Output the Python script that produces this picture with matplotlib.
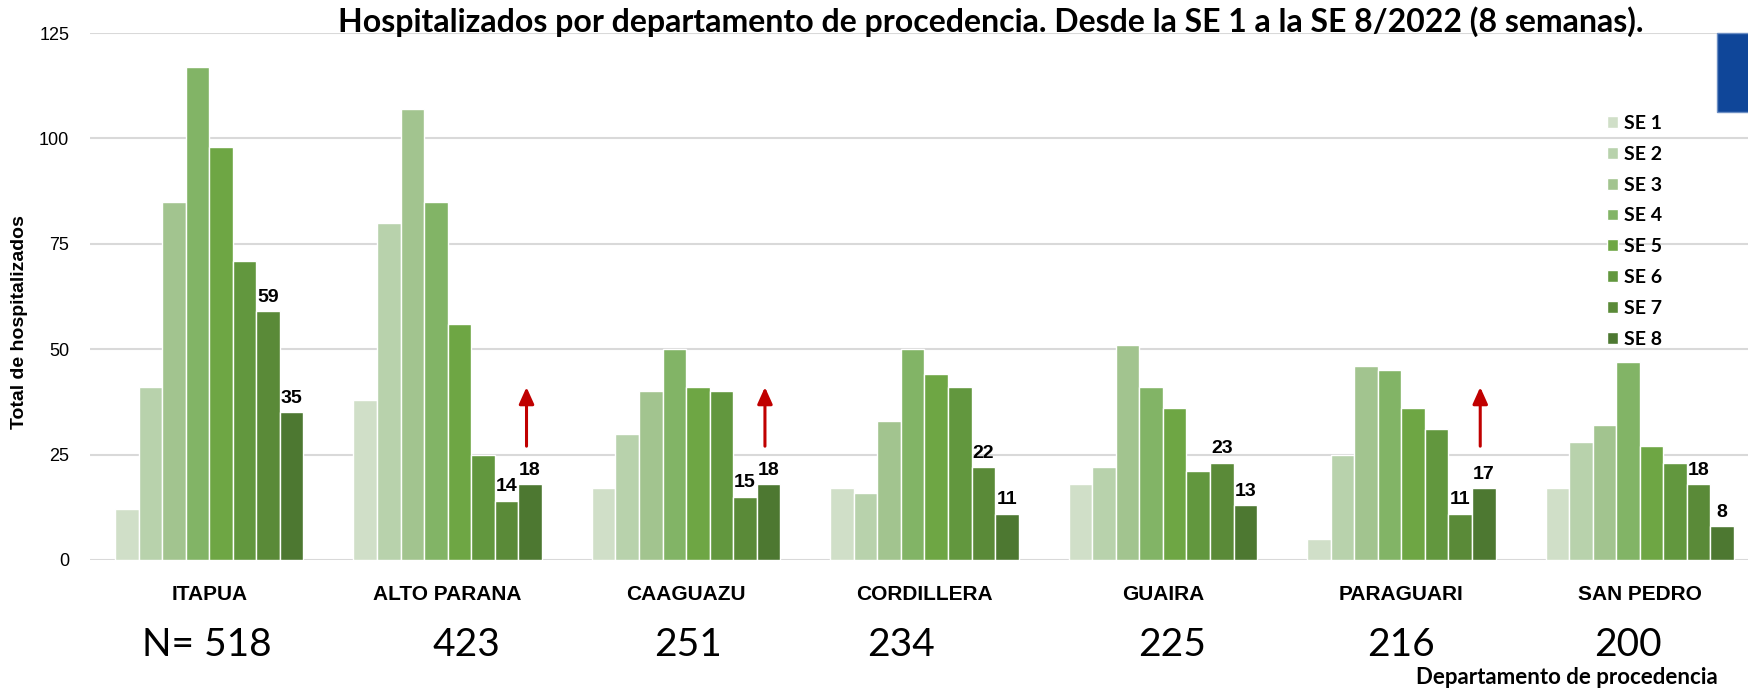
import matplotlib
matplotlib.use("Agg")
import matplotlib.pyplot as plt
import matplotlib.transforms as mtransforms
from matplotlib.patches import Rectangle
import numpy as np

departamentos = ["ITAPUA", "ALTO PARANA", "CAAGUAZU", "CORDILLERA", "GUAIRA", "PARAGUARI", "SAN PEDRO"]
semanas = ["SE 1", "SE 2", "SE 3", "SE 4", "SE 5", "SE 6", "SE 7", "SE 8"]

se1 = [12, 38, 17, 17, 18, 5, 17]
se2 = [41, 80, 30, 16, 22, 25, 28]
se3 = [85, 107, 40, 33, 51, 46, 32]
se4 = [117, 85, 50, 50, 41, 45, 47]
se5 = [98, 56, 41, 44, 36, 36, 27]
se6 = [71, 25, 40, 41, 21, 31, 23]
se7 = [59, 14, 15, 22, 23, 11, 18]
se8 = [35, 18, 18, 11, 13, 17, 8]
series = [se1, se2, se3, se4, se5, se6, se7, se8]

# departamentos marcados con flecha roja (aumento en SE 8)
con_flecha = ["ALTO PARANA", "CAAGUAZU", "PARAGUARI"]

colores = ["#d0dfc8", "#b8d2ac", "#a2c48f", "#82b466", "#6ea644",
           "#62973e", "#5a8a38", "#4d7831"]

narrow = ["Liberation Sans Narrow", "Arial Narrow", "Liberation Sans", "DejaVu Sans"]
calibri = ["Lato", "DejaVu Sans"]
arial = ["Liberation Sans", "DejaVu Sans"]

fig = plt.figure(figsize=(17.49, 6.92), dpi=100)
W, H = 1749, 692
# the plot area runs a little past the right edge, like the cropped original
ax = fig.add_axes([90 / W, 1 - 560 / H, 1669 / W, (560 - 33) / H])

x = np.arange(len(departamentos))
n = len(semanas)
ancho = 0.79 / n
for i, (vals, lab, col) in enumerate(zip(series, semanas, colores)):
    pos = x - 0.395 + ancho * (i + 0.5)
    bars = ax.bar(pos, vals, width=ancho, color=col, edgecolor="white",
                  linewidth=1.0, label=lab, zorder=2)
    if i >= 6:
        for px, v in zip(pos, vals):
            ax.annotate(str(v), (px, v), xytext=(0, 4), textcoords="offset points",
                        ha="center", va="bottom", fontsize=14, fontweight="bold",
                        family=narrow)
    if i == 7:
        for px, dep in zip(pos, departamentos):
            if dep in con_flecha:
                ax.annotate("", xy=(px - 0.15 * ancho, 41), xytext=(px - 0.15 * ancho, 27),
                            arrowprops=dict(arrowstyle="-|>,head_width=0.45,head_length=1.0",
                                            color="#c00000", lw=2.2, shrinkA=0, shrinkB=0))

ax.set_xlim(-0.5, len(departamentos) - 0.5)
ax.set_ylim(0, 125)
ax.set_yticks([0, 25, 50, 75, 100, 125])
ax.yaxis.grid(True, color="#d9d9d9", linewidth=1.5, zorder=0)
ax.set_axisbelow(True)
for s in ax.spines.values():
    s.set_visible(False)
ax.tick_params(axis="both", length=0)
ax.tick_params(axis="y", pad=15)
ax.tick_params(axis="x", pad=18)
ax.set_xticks(x)
ax.set_xticklabels(departamentos, fontsize=15, fontweight="bold", family=narrow)
for t in ax.get_yticklabels():
    t.set_fontsize(13)
    t.set_family(narrow)

# totales por departamento debajo de las etiquetas
totales = [sum(v) for v in zip(*series)]
desplaz = [-0.01, 0.08, 0.01, -0.10, 0.04, 0.0, -0.05]
trans = mtransforms.blended_transform_factory(ax.transData, fig.transFigure)
for i, tot in enumerate(totales):
    txt = ("N= %d" % tot) if i == 0 else str(tot)
    ax.text(i + desplaz[i], 1 - 645 / H, txt, transform=trans, ha="center",
            va="center", fontsize=28, family=calibri, clip_on=False)

leg = ax.legend(loc="upper left", bbox_to_anchor=(1607 / W, 1 - 115 / H),
                bbox_transform=fig.transFigure, frameon=False, ncol=1,
                handlelength=0.55, handleheight=0.55, handletextpad=0.35,
                labelspacing=0.71, borderpad=0, borderaxespad=0,
                prop={"family": calibri, "weight": "bold", "size": 14})

fig.text(991 / W, 1 - 22 / H,
         "Hospitalizados por departamento de procedencia. Desde la SE 1 a la SE 8/2022 (8 semanas).",
         ha="center", va="center", fontsize=23, fontweight="bold", family=calibri)
fig.text(20 / W, 1 - 322 / H, "Total de hospitalizados", rotation=90, ha="center",
         va="center", fontsize=14, fontweight="bold", family=arial)
fig.text(1718 / W, 1 - 678 / H, "Departamento de procedencia", ha="right",
         va="center", fontsize=16, fontweight="bold", family=calibri)

fig.patches.append(Rectangle((1717 / W, 1 - 112 / H), 40 / W, 79 / H,
                             transform=fig.transFigure, facecolor="#0f4699",
                             edgecolor="#6d8fc4", linewidth=1))

fig.savefig("out.png", dpi=100)
